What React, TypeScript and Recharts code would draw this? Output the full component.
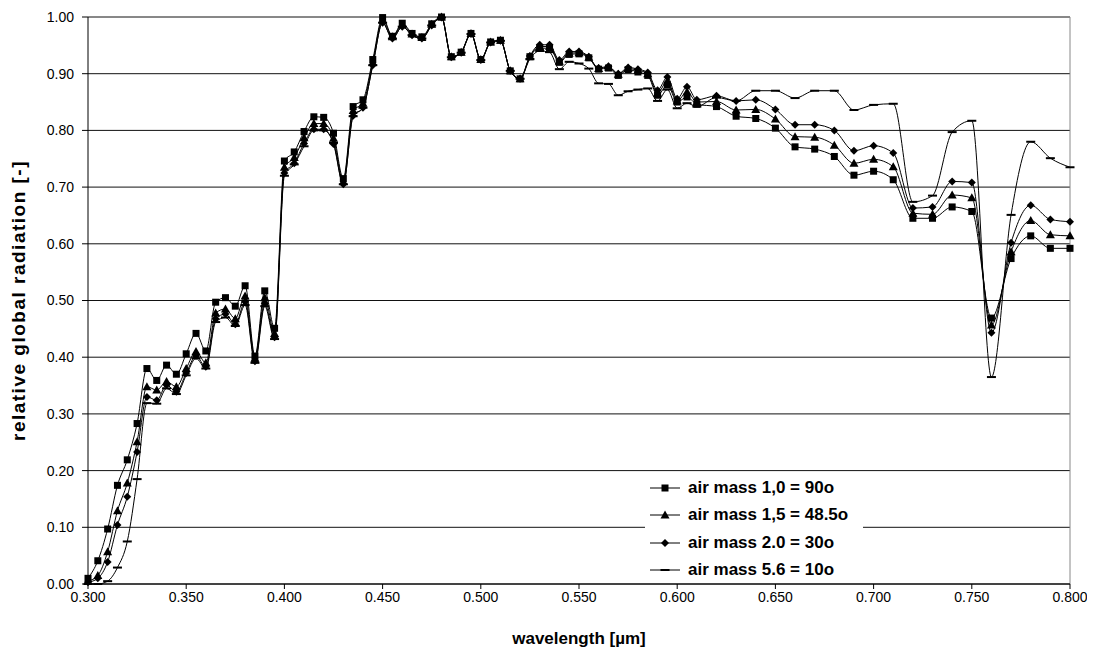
import React from "react";
import { CartesianGrid, Legend, Line, LineChart, ReferenceLine, XAxis, YAxis } from "recharts";

// wavelength [µm]: 0.005 steps up to 0.610, then 0.01 steps
const wavelengths = [
  0.3, 0.305, 0.31, 0.315, 0.32, 0.325, 0.33, 0.335, 0.34, 0.345, 0.35, 0.355, 0.36, 0.365, 0.37, 0.375,
  0.38, 0.385, 0.39, 0.395, 0.4, 0.405, 0.41, 0.415, 0.42, 0.425, 0.43, 0.435, 0.44, 0.445, 0.45, 0.455,
  0.46, 0.465, 0.47, 0.475, 0.48, 0.485, 0.49, 0.495, 0.5, 0.505, 0.51, 0.515, 0.52, 0.525, 0.53, 0.535,
  0.54, 0.545, 0.55, 0.555, 0.56, 0.565, 0.57, 0.575, 0.58, 0.585, 0.59, 0.595, 0.6, 0.605, 0.61,
  0.62, 0.63, 0.64, 0.65, 0.66, 0.67, 0.68, 0.69, 0.7, 0.71, 0.72, 0.73, 0.74, 0.75, 0.76, 0.77, 0.78,
  0.79, 0.8,
];

const airMass10 = [
  0.01, 0.041, 0.097, 0.174, 0.219, 0.283, 0.38, 0.359, 0.386, 0.37, 0.406, 0.442, 0.411, 0.497, 0.505, 0.49,
  0.526, 0.402, 0.517, 0.451, 0.746, 0.762, 0.798, 0.824, 0.823, 0.795, 0.715, 0.842, 0.854, 0.925, 0.999, 0.966,
  0.989, 0.971, 0.965, 0.988, 1.0, 0.93, 0.938, 0.971, 0.925, 0.956, 0.959, 0.905, 0.891, 0.93, 0.945, 0.945,
  0.92, 0.934, 0.935, 0.928, 0.908, 0.91, 0.897, 0.907, 0.903, 0.897, 0.862, 0.88, 0.85, 0.859, 0.846,
  0.842, 0.825, 0.821, 0.804, 0.771, 0.767, 0.754, 0.721, 0.728, 0.713, 0.645, 0.645, 0.665, 0.657, 0.469, 0.574, 0.614,
  0.592, 0.592,
];

const airMass15 = [
  0.005, 0.015, 0.057, 0.129, 0.178, 0.251, 0.348, 0.342, 0.357, 0.348, 0.38, 0.41, 0.39, 0.478, 0.485, 0.468,
  0.508, 0.398, 0.505, 0.442, 0.735, 0.752, 0.787, 0.812, 0.812, 0.786, 0.71, 0.835, 0.848, 0.92, 0.995, 0.965,
  0.986, 0.97, 0.964, 0.987, 1.0, 0.93, 0.938, 0.971, 0.925, 0.956, 0.959, 0.905, 0.891, 0.93, 0.948, 0.948,
  0.922, 0.936, 0.937, 0.929, 0.909, 0.912, 0.899, 0.909, 0.906, 0.9, 0.866, 0.887, 0.852, 0.868, 0.85,
  0.851, 0.836, 0.837, 0.82, 0.789, 0.788, 0.774, 0.742, 0.749, 0.736, 0.654, 0.652, 0.686, 0.681, 0.457, 0.586, 0.641,
  0.616, 0.614,
];

const airMass20 = [
  0.003, 0.01, 0.039, 0.104, 0.154, 0.233, 0.33, 0.324, 0.351, 0.339, 0.372, 0.402, 0.383, 0.468, 0.476, 0.458,
  0.498, 0.393, 0.495, 0.435, 0.725, 0.742, 0.777, 0.802, 0.802, 0.776, 0.705, 0.826, 0.84, 0.915, 0.99, 0.962,
  0.983, 0.968, 0.962, 0.985, 0.999, 0.929, 0.937, 0.97, 0.924, 0.955, 0.958, 0.905, 0.891, 0.931, 0.951, 0.951,
  0.924, 0.939, 0.939, 0.93, 0.91, 0.913, 0.9, 0.911, 0.908, 0.902, 0.871, 0.894, 0.856, 0.877, 0.854,
  0.861, 0.852, 0.854, 0.837, 0.81, 0.81, 0.8, 0.764, 0.773, 0.76, 0.663, 0.665, 0.71, 0.708, 0.443, 0.602, 0.668,
  0.643, 0.639,
];

const airMass56 = [
  0.0, 0.0, 0.005, 0.029, 0.075, 0.185, 0.319, 0.318, 0.345, 0.335, 0.368, 0.398, 0.38, 0.462, 0.47, 0.455,
  0.492, 0.39, 0.49, 0.432, 0.72, 0.74, 0.772, 0.8, 0.8, 0.778, 0.705, 0.825, 0.84, 0.915, 0.99, 0.962,
  0.983, 0.968, 0.962, 0.985, 0.999, 0.929, 0.937, 0.97, 0.924, 0.955, 0.958, 0.905, 0.891, 0.926, 0.94, 0.938,
  0.908, 0.921, 0.918, 0.909, 0.883, 0.882, 0.862, 0.869, 0.872, 0.874, 0.852, 0.872, 0.839, 0.848, 0.842,
  0.858, 0.852, 0.87, 0.87, 0.857, 0.87, 0.87, 0.836, 0.845, 0.847, 0.674, 0.685, 0.797, 0.817, 0.365, 0.651, 0.78,
  0.751, 0.735,
];

const seriesNames = [
  "air mass 1,0 = 90o",
  "air mass 1,5 = 48.5o",
  "air mass 2.0 = 30o",
  "air mass 5.6 = 10o",
];
const seriesKeys = ["m10", "m15", "m20", "m56"];
const markerShapes = ["square", "triangle", "diamond", "dash"];

const xTicks = [0.3, 0.35, 0.4, 0.45, 0.5, 0.55, 0.6, 0.65, 0.7, 0.75, 0.8];
const yTicks = [0, 0.1, 0.2, 0.3, 0.4, 0.5, 0.6, 0.7, 0.8, 0.9, 1.0];

const data = wavelengths.map((wl, i) => ({
  wl,
  m10: airMass10[i],
  m15: airMass15[i],
  m20: airMass20[i],
  m56: airMass56[i],
}));

const font = "'Liberation Sans', Arial, sans-serif";

function Marker({ shape, cx, cy }: { shape: string; cx?: number; cy?: number }) {
  if (cx == null || cy == null) return null;
  if (shape === "square") {
    return <rect x={cx - 3.5} y={cy - 3.5} width={7} height={7} fill="#000" />;
  }
  if (shape === "triangle") {
    return <path d={`M${cx},${cy - 4.5}L${cx + 4.5},${cy + 3.5}L${cx - 4.5},${cy + 3.5}Z`} fill="#000" />;
  }
  if (shape === "diamond") {
    return <path d={`M${cx},${cy - 4}L${cx + 4},${cy}L${cx},${cy + 4}L${cx - 4},${cy}Z`} fill="#000" />;
  }
  return <line x1={cx - 4.5} x2={cx + 4.5} y1={cy} y2={cy} stroke="#000" strokeWidth={2} />;
}

function LegendBox() {
  return (
    <div
      style={{
        position: "relative",
        width: 218,
        height: 107,
        background: "#fff",
        fontFamily: font,
        fontWeight: "bold",
        fontSize: 17,
        color: "#000",
      }}
    >
      {seriesNames.map((name, i) => (
        <div
          key={name}
          style={{ position: "absolute", left: 0, top: 12 + i * 27.3 - 10, height: 20, display: "flex", alignItems: "center" }}
        >
          <svg width={40} height={20}>
            <line x1={5} x2={35} y1={10} y2={10} stroke="#000" strokeWidth={1} />
            <Marker shape={markerShapes[i]} cx={20} cy={10} />
          </svg>
          <span style={{ marginLeft: 3, whiteSpace: "nowrap" }}>{name}</span>
        </div>
      ))}
    </div>
  );
}

export default function App() {
  return (
    <LineChart width={1080} height={640} data={data} margin={{ top: 9, right: 18, bottom: 0, left: 0 }}>
      <CartesianGrid horizontal vertical={false} stroke="#111" strokeWidth={1} />
      <XAxis
        dataKey="wl"
        type="number"
        domain={[0.3, 0.8]}
        ticks={xTicks}
        tickFormatter={(v: number) => v.toFixed(3)}
        height={64}
        stroke="#000"
        tickSize={5}
        tickMargin={3}
        tick={{ fill: "#000", fontSize: 14, fontFamily: font }}
        label={{
          value: "wavelength [µm]",
          position: "insideBottom",
          offset: 4,
          style: { fontFamily: font, fontWeight: "bold", fontSize: 17, fill: "#000" },
        }}
      />
      <YAxis
        type="number"
        domain={[0, 1]}
        ticks={yTicks}
        tickFormatter={(v: number) => v.toFixed(2)}
        width={80}
        stroke="#000"
        tickSize={6}
        tickMargin={8}
        tick={{ fill: "#000", fontSize: 14, fontFamily: font }}
        label={{
          value: "relative global radiation [-]",
          angle: -90,
          position: "insideLeft",
          offset: 10,
          style: {
            textAnchor: "middle",
            fontFamily: font,
            fontWeight: "bold",
            fontSize: 19,
            letterSpacing: 1.5,
            fill: "#000",
          },
        }}
      />
      <ReferenceLine x={0.8} stroke="#888" />
      {seriesKeys.map((key, i) => (
        <Line
          key={key}
          dataKey={key}
          name={seriesNames[i]}
          type="monotone"
          stroke="#000"
          strokeWidth={1}
          isAnimationActive={false}
          dot={(p: any) => <Marker key={`${key}-${p.index}`} shape={markerShapes[i]} cx={p.cx} cy={p.cy} />}
          activeDot={false}
        />
      ))}
      <Legend
        layout="vertical"
        align="center"
        verticalAlign="middle"
        wrapperStyle={{ left: 637, top: 468, width: 218, height: 107 }}
        content={() => <LegendBox />}
      />
    </LineChart>
  );
}
